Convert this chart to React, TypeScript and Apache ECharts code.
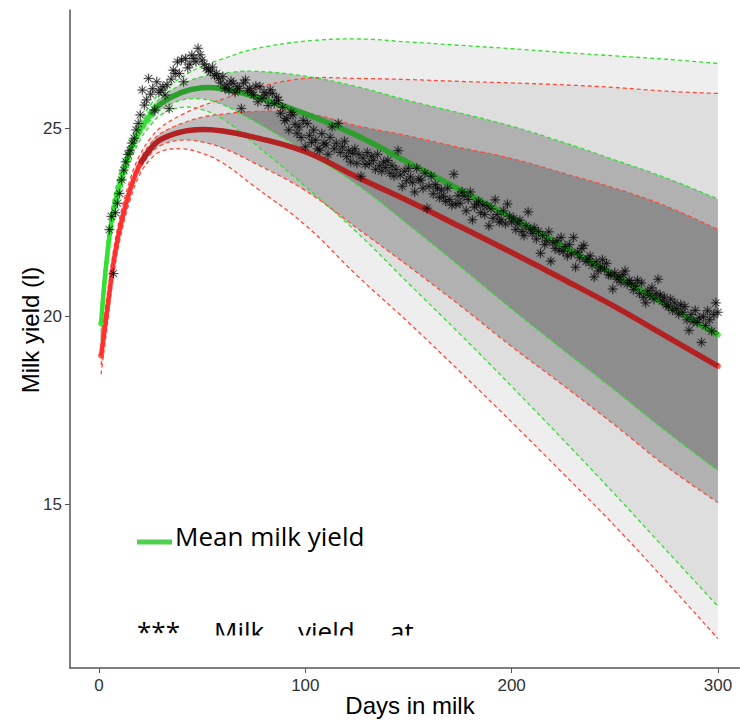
import React, { useEffect, useRef } from "react";
import * as echarts from "echarts";

// Days at which the fitted curves were read
const days = [1, 2, 3, 5, 7, 10, 15, 20, 25, 30, 40, 50, 60, 75, 100, 125, 150, 175, 200, 225, 250, 275, 300];

// Green curve (mean) and its bands
const greenMean = [19.8, 20.5, 21.1, 22.1, 22.8, 23.5, 24.35, 24.95, 25.35, 25.65, 25.95, 26.07, 26.04, 25.85, 25.38, 24.8, 24.08, 23.36, 22.62, 21.86, 21.09, 20.3, 19.5];
const greenOuterUpper = [20.25, 20.92, 21.5, 22.46, 23.13, 23.8, 24.62, 25.21, 25.62, 25.95, 26.35, 26.65, 26.84, 27.1, 27.31, 27.37, 27.29, 27.2, 27.11, 27.01, 26.92, 26.83, 26.72];
const greenOuterLower = [19.35, 20.08, 20.7, 21.74, 22.47, 23.2, 24.08, 24.69, 25.08, 25.35, 25.55, 25.49, 25.24, 24.6, 23.45, 22.23, 20.87, 19.52, 18.13, 16.71, 15.26, 13.77, 12.28];
const greenInnerUpper = [20.03, 20.71, 21.3, 22.28, 22.96, 23.65, 24.48, 25.08, 25.49, 25.81, 26.16, 26.37, 26.46, 26.51, 26.38, 26.1, 25.73, 25.4, 25.05, 24.62, 24.15, 23.67, 23.11];
const greenInnerLower = [19.57, 20.29, 20.9, 21.92, 22.64, 23.35, 24.22, 24.82, 25.21, 25.49, 25.74, 25.77, 25.62, 25.19, 24.38, 23.5, 22.43, 21.32, 20.19, 19.1, 18.03, 16.93, 15.89];

// Red curve (mean) and its bands
const redMean = [18.95, 19.35, 19.75, 20.6, 21.4, 22.3, 23.35, 24.05, 24.45, 24.7, 24.9, 24.96, 24.92, 24.76, 24.37, 23.7, 23.06, 22.38, 21.69, 20.98, 20.25, 19.46, 18.67];
const redOuterUpper = [19.45, 19.81, 20.18, 20.98, 21.74, 22.6, 23.62, 24.31, 24.73, 25.02, 25.35, 25.59, 25.77, 26.06, 26.32, 26.32, 26.29, 26.24, 26.2, 26.15, 26.08, 25.98, 25.92];
const redOuterLower = [18.45, 18.89, 19.32, 20.22, 21.06, 22.0, 23.08, 23.79, 24.17, 24.38, 24.45, 24.33, 24.07, 23.46, 22.42, 21.08, 19.83, 18.52, 17.18, 15.81, 14.42, 12.94, 11.42];
const redInnerUpper = [19.2, 19.58, 19.96, 20.79, 21.57, 22.45, 23.48, 24.18, 24.59, 24.86, 25.12, 25.29, 25.37, 25.44, 25.4, 25.06, 24.79, 24.48, 24.19, 23.8, 23.4, 22.92, 22.3];
const redInnerLower = [18.7, 19.12, 19.54, 20.41, 21.23, 22.15, 23.22, 23.92, 24.31, 24.54, 24.68, 24.63, 24.47, 24.08, 23.34, 22.34, 21.33, 20.28, 19.19, 18.16, 17.1, 16.0, 15.04];

// Observed daily milk yield, starting at day 5
const obsFirstDay = 5;
const obsYield = [
  22.3, 22.65, 21.13, 22.75, 23.0, 23.26, 23.62, 23.88, 24.1, 24.3, 24.41, 24.6, 24.73, 24.95, 25.12, 25.35,
  26.01, 25.61, 25.75, 26.32, 25.9, 26.05, 25.48, 26.23, 25.95, 26.01,
  26.1, 25.88, 26.15, 25.52, 26.3, 26.54, 26.45, 26.76, 26.45, 26.81,
  26.23, 26.85, 26.6, 26.7, 26.94, 26.85, 26.76, 27.12, 26.95, 26.81,
  26.7, 26.59, 26.55, 26.5, 26.62, 26.4, 26.45, 26.32, 26.2, 26.37,
  26.06, 26.15, 26.01, 26.25, 26.19, 25.95, 26.1, 26.05, 25.52, 26.2,
  26.28, 26.0, 26.06, 25.95, 25.88, 26.12, 25.7, 26.1, 25.79, 25.95,
  25.88, 25.6, 26.02, 25.92, 25.65, 25.82, 25.74, 25.39, 25.55, 25.2,
  25.25, 24.95, 25.42, 25.35, 25.1, 24.86, 25.03, 24.75, 25.2, 24.5,
  25.12, 24.8, 24.62, 24.95, 24.68, 24.45, 24.41, 24.85, 24.6, 24.55,
  24.3, 24.75, 25.03, 24.45, 24.6, 25.12, 24.35, 24.5, 24.65, 24.24,
  24.4, 24.1, 24.33, 24.45, 24.06, 24.3, 23.72, 24.2, 24.03, 24.35,
  24.05, 24.25, 24.14, 23.9, 24.3, 24.0, 23.85, 24.1, 23.95, 24.14,
  23.8, 24.0, 23.72, 23.9, 24.4, 23.75, 23.45, 23.85, 23.6, 23.93,
  23.7, 23.55, 23.3, 23.93, 23.65, 23.61, 23.4, 23.8, 22.87, 23.45,
  23.72, 23.25, 23.5, 23.4, 23.15, 23.35, 23.19, 23.05, 23.4, 23.1,
  22.95, 23.77, 22.98, 23.2, 23.0, 23.3, 23.19, 22.8, 23.1, 23.3,
  22.56, 22.9, 22.98, 23.05, 22.75, 22.95, 22.7, 22.93, 22.4, 22.85,
  22.6, 23.09, 22.7, 22.5, 22.56, 22.8, 22.45, 22.98, 22.66, 22.5,
  22.6, 22.3, 22.45, 22.55, 22.25, 22.14, 22.4, 22.77, 22.3, 22.2,
  22.35, 22.05, 22.25, 21.67, 22.14, 21.9, 22.0, 22.24, 21.46, 21.95,
  21.8, 22.0, 21.75, 22.09, 21.72, 21.85, 21.6, 21.9, 21.65, 22.09,
  21.3, 21.7, 21.55, 21.8, 21.88, 21.45, 21.51, 21.6, 21.35, 21.04,
  21.45, 21.2, 21.3, 21.5, 21.25, 21.4, 21.1, 21.09, 20.72, 21.15,
  20.98, 21.05, 20.9, 21.1, 21.2, 20.85, 20.95, 20.88, 20.7, 20.8,
  20.95, 20.6, 20.88, 20.5, 20.35, 20.67, 20.55, 20.75, 20.45, 20.6,
  20.98, 20.56, 20.4, 20.5, 20.3, 20.25, 20.45, 20.15, 20.35, 20.2,
  20.05, 20.3, 20.1, 20.25, 19.9, 19.62, 20.04, 19.85, 20.15, 19.83,
  19.95, 19.3, 19.98, 19.75, 20.14, 19.9, 19.6, 20.04, 20.35, 20.1,
];

const xTicks = [0, 100, 200, 300];
const yTicks = [15, 20, 25];
const xRange = [-14.06, 310.7];
const yRange = [10.64, 28.14];

const legendLabel = "Mean milk yield";
const noteWords = ["***", "Milk", "yield", "at"];
const xTitle = "Days in milk";
const yTitle = "Milk yield (l)";

const SMOOTH = 0.4;

// Smooth cubic path through pixel points (same scheme as ECharts' line smoothing)
function smoothD(pts: number[][], start: "M" | "L"): string {
  let d = `${start}${pts[0][0]},${pts[0][1]}`;
  let cpx0 = pts[0][0];
  let cpy0 = pts[0][1];
  for (let i = 1; i < pts.length; i++) {
    const [x, y] = pts[i];
    const [px, py] = pts[i - 1];
    let cpx1 = x, cpy1 = y, ncx = x, ncy = y;
    if (i < pts.length - 1) {
      const [nx, ny] = pts[i + 1];
      const vx = nx - px;
      const vy = ny - py;
      const l0 = Math.hypot(x - px, y - py);
      const l1 = Math.hypot(nx - x, ny - y);
      const r = l1 / (l0 + l1 || 1);
      cpx1 = x - vx * SMOOTH * (1 - r);
      cpy1 = y - vy * SMOOTH * (1 - r);
      ncx = x + vx * SMOOTH * r;
      ncy = y + vy * SMOOTH * r;
    }
    d += `C${cpx0},${cpy0},${cpx1},${cpy1},${x},${y}`;
    cpx0 = ncx;
    cpy0 = ncy;
  }
  return d;
}

export default function App() {
  const ref = useRef<HTMLDivElement>(null);

  useEffect(() => {
    const chart = echarts.init(ref.current!, null, { renderer: "svg" });

    const toPx = (api: any, ys: number[], from = 0) =>
      days.slice(from).map((d, i) => api.coord([d, ys[i + from]]) as number[]);

    const custom = (z: number, build: (api: any) => any) => ({
      type: "custom",
      silent: true,
      clip: false,
      z,
      data: [[days[0], greenMean[0]]],
      renderItem: (_p: any, api: any) => build(api),
    });

    const ribbon = (lower: number[], upper: number[], fill: string) =>
      custom(1, (api) => {
        const up = toPx(api, upper);
        const lo = toPx(api, lower).reverse();
        return { type: "path", shape: { pathData: smoothD(up, "M") + smoothD(lo, "L") + "Z" }, style: { fill, stroke: "none" } };
      });

    const curve = (ys: number[], stroke: string, lineWidth: number, z: number, dash: number[] | null, from = 0) =>
      custom(z, (api) => ({
        type: "path",
        shape: { pathData: smoothD(toPx(api, ys, from), "M") },
        style: { fill: "none", stroke, lineWidth, lineDash: dash || undefined, lineCap: "butt" },
      }));

    const outerFill = "rgba(0,0,0,0.066)";
    const innerFill = "rgba(0,0,0,0.2)";
    const gDash = "#2fe02f";
    const rDash = "#ff4a3a";
    const dash = [4, 3];
    const dw = 1.3;

    const gStart = days.indexOf(25);
    const rStart = days.indexOf(20);

    const asterisk = "path://M5,0L5,10M0,5L10,5M1.5,1.5L8.5,8.5M1.5,8.5L8.5,1.5";
    const obs = obsYield.map((v, i) => [obsFirstDay + i, v]);

    const labelFont = { fontFamily: "Liberation Sans", fontSize: 17, color: "#333" };
    const last = days.length - 1;
    const noteFont = '26px "Open Sans"';

    chart.setOption({
      animation: false,
      backgroundColor: "#fff",
      grid: { left: 70, right: 0, top: 10, bottom: 52 },
      xAxis: {
        type: "value", min: xRange[0], max: xRange[1],
        axisLine: { onZero: false, lineStyle: { color: "#555", width: 1.5 } },
        axisTick: { customValues: xTicks, length: 5, lineStyle: { color: "#555", width: 1 } },
        axisLabel: { customValues: xTicks, margin: 9, ...labelFont },
        splitLine: { show: false },
      },
      yAxis: {
        type: "value", min: yRange[0], max: yRange[1],
        axisLine: { show: true, onZero: false, lineStyle: { color: "#555", width: 1.5 } },
        axisTick: { show: true, customValues: yTicks, length: 5, lineStyle: { color: "#555", width: 1 } },
        axisLabel: { customValues: yTicks, margin: 8, ...labelFont },
        splitLine: { show: false },
      },
      series: [
        ribbon(greenOuterLower, greenOuterUpper, outerFill),
        ribbon(redOuterLower, redOuterUpper, outerFill),
        ribbon(greenInnerLower, greenInnerUpper, innerFill),
        ribbon(redInnerLower, redInnerUpper, innerFill),
        curve(greenOuterUpper, gDash, dw, 2, dash),
        curve(greenOuterLower, gDash, dw, 2, dash),
        curve(greenInnerUpper, gDash, dw, 2, dash),
        curve(greenInnerLower, gDash, dw, 2, dash),
        curve(redOuterUpper, rDash, dw, 2, dash),
        curve(redOuterLower, rDash, dw, 2, dash),
        curve(redInnerUpper, rDash, dw, 2, dash),
        curve(redInnerLower, rDash, dw, 2, dash),
        curve(greenMean, "#33e033", 4.5, 3, null),
        curve(redMean, "#ff3030", 4.5, 3, null),
        {
          type: "scatter", silent: true, z: 3, symbol: "circle", symbolSize: 6,
          data: [[days[0], greenMean[0]], [days[last], greenMean[last]]],
          itemStyle: { color: "#33e033" },
        },
        {
          type: "scatter", silent: true, z: 3, symbol: "circle", symbolSize: 6,
          data: [[days[0], redMean[0]], [days[last], redMean[last]]],
          itemStyle: { color: "#ff3030" },
        },
        curve(redMean, "#b22222", 5.5, 4, null, rStart),
        curve(greenMean, "#2e9e2e", 5.5, 4, null, gStart),
        {
          type: "scatter", data: obs, symbol: asterisk, symbolSize: 11, silent: true, z: 5,
          itemStyle: { color: "rgba(0,0,0,0)", borderColor: "rgba(0,0,0,0.3)", borderWidth: 1.6 },
        },
        {
          type: "scatter", data: obs, symbol: asterisk, symbolSize: 9, silent: true, z: 6,
          itemStyle: { color: "rgba(0,0,0,0)", borderColor: "#000", borderWidth: 0.8 },
        },
      ],
      graphic: [
        { type: "line", z: 100, shape: { x1: 137, y1: 542, x2: 172, y2: 542 }, style: { stroke: "#4fd04f", lineWidth: 5 } },
        { type: "text", z: 100, x: 175, y: 536, style: { text: legendLabel, font: noteFont, fill: "#000", verticalAlign: "middle" } },
        { type: "text", z: 100, x: 137, y: 631, style: { text: noteWords[0], font: noteFont, fill: "#000", verticalAlign: "middle" } },
        { type: "text", z: 100, x: 214, y: 631, style: { text: noteWords[1], font: noteFont, fill: "#000", verticalAlign: "middle" } },
        { type: "text", z: 100, x: 298, y: 631, style: { text: noteWords[2], font: noteFont, fill: "#000", verticalAlign: "middle" } },
        { type: "text", z: 100, x: 390, y: 631, style: { text: noteWords[3], font: noteFont, fill: "#000", verticalAlign: "middle" } },
        { type: "rect", z: 101, shape: { x: 120, y: 635.5, width: 330, height: 31 }, style: { fill: "#fff" } },
        {
          type: "text", z: 100, x: 30, y: 330, rotation: Math.PI / 2,
          style: { text: yTitle, font: '24px "Liberation Sans"', fill: "#000", align: "center", verticalAlign: "middle" },
        },
        {
          type: "text", z: 100, x: 410, y: 705,
          style: { text: xTitle, font: '24px "Liberation Sans"', fill: "#000", align: "center", verticalAlign: "middle" },
        },
      ],
    });

    return () => chart.dispose();
  }, []);

  return <div ref={ref} style={{ position: "absolute", left: 0, top: 0, width: 740, height: 720 }} />;
}
